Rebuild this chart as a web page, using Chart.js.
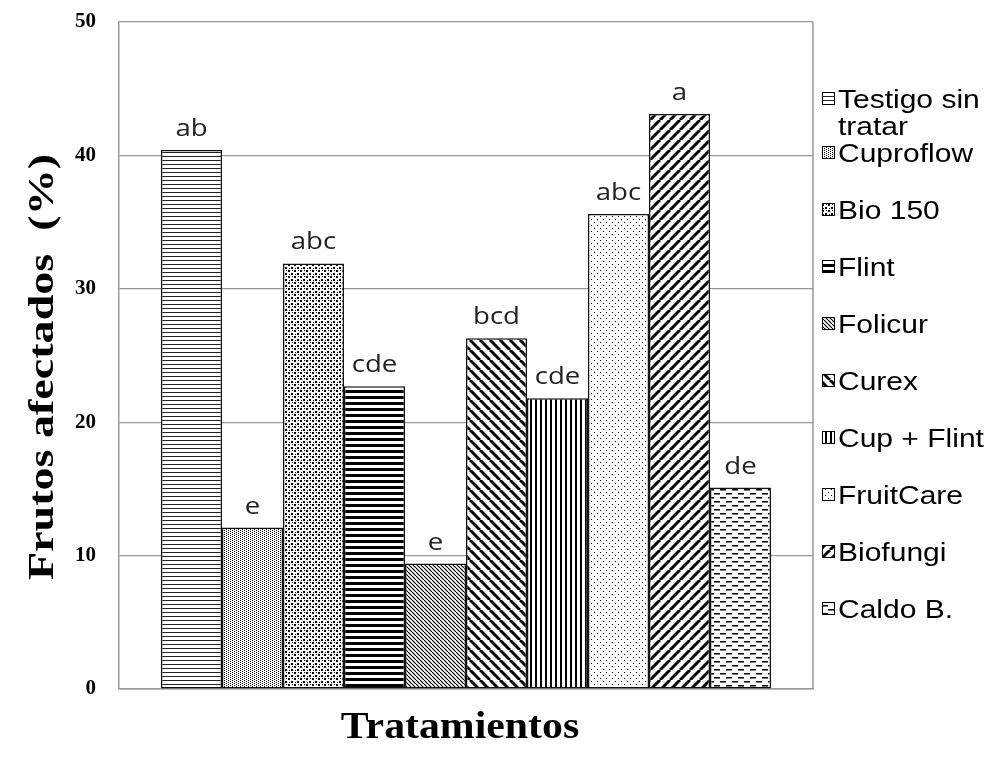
<!DOCTYPE html>
<html>
<head>
<meta charset="utf-8">
<script src="https://cdn.jsdelivr.net/npm/chart.js@4"></script>
<style>
  body { margin: 0; background: #fff; }
  #wrap { width: 1003px; height: 758px; }
</style>
</head>
<body>
<div id="wrap"><canvas id="chart" width="1003" height="758"></canvas></div>
<script>
// datos
var tratamientos = ['Testigo sin tratar', 'Cuproflow', 'Bio 150', 'Flint', 'Folicur', 'Curex', 'Cup + Flint', 'FruitCare', 'Biofungi', 'Caldo B.'];
var frutosAfectados = [40.4, 12.1, 31.9, 22.7, 9.4, 26.3, 21.8, 35.6, 43.1, 15.1];
var letras = ['ab', 'e', 'abc', 'cde', 'e', 'bcd', 'cde', 'abc', 'a', 'de'];
var yTicks = [0, 10, 20, 30, 40, 50];

// tramas en blanco y negro
function trama(w, h, draw) {
  var c = document.createElement('canvas');
  c.width = w; c.height = h;
  var g = c.getContext('2d');
  g.fillStyle = '#fff';
  g.fillRect(0, 0, w, h);
  g.fillStyle = '#000';
  g.strokeStyle = '#000';
  draw(g, w, h);
  return g.createPattern(c, 'repeat');
}
function diagonal(p, lw, dir) {
  return trama(p, p, function(g) {
    g.lineWidth = lw;
    for (var x0 = -p; x0 <= p; x0 += p) {
      g.beginPath();
      if (dir == '/') { g.moveTo(x0, p); g.lineTo(x0 + p, 0); }
      else { g.moveTo(x0, 0); g.lineTo(x0 + p, p); }
      g.stroke();
    }
  });
}
var tramas = [
  trama(4, 4, function(g) { g.fillStyle = '#222'; g.fillRect(0, 0, 4, 1); }),
  trama(4, 4, function(g) { g.fillRect(0, 0, 1, 1); g.fillRect(2, 1, 1, 1); g.fillRect(0, 2, 1, 1); g.fillRect(2, 3, 1, 1); }),
  trama(6, 6, function(g) { g.fillRect(0, 0, 2, 2); g.fillRect(3, 3, 2, 2); g.fillRect(4, 0, 1, 1); g.fillRect(1, 4, 1, 1); }),
  trama(6, 6, function(g) { g.fillRect(0, 0, 6, 3); }),
  diagonal(4, 1.2, '\\'),
  diagonal(10, 3, '\\'),
  trama(5, 5, function(g) { g.fillRect(0, 0, 2, 5); }),
  trama(6, 6, function(g) { g.fillRect(0, 0, 1, 1); g.fillRect(3, 3, 1, 1); }),
  diagonal(10, 3, '/'),
  trama(12, 8, function(g) { g.fillRect(0, 1, 6, 1.5); g.fillRect(6, 5, 6, 1.5); })
];

function textoEstirado(ctx, txt, x, y, sx, align) {
  ctx.save();
  ctx.translate(x, y);
  ctx.scale(sx, 1);
  ctx.textAlign = align || 'left';
  ctx.fillText(txt, 0, 0);
  ctx.restore();
}

var datasets = tratamientos.map(function(t, i) {
  return {
    label: t,
    data: [frutosAfectados[i]],
    backgroundColor: tramas[i],
    borderColor: '#111',
    borderWidth: 1.5,
    borderSkipped: false
  };
});

// marco, letras, titulos y leyenda
var extras = {
  id: 'extras',
  beforeDatasetsDraw: function(chart) {
    var ctx = chart.ctx, a = chart.chartArea;
    ctx.save();
    ctx.strokeStyle = '#999';
    ctx.lineWidth = 1.5;
    ctx.beginPath();
    ctx.moveTo(a.right, a.top);
    ctx.lineTo(a.right, a.bottom);
    ctx.stroke();
    ctx.restore();
  },
  afterDraw: function(chart) {
    var ctx = chart.ctx;
    ctx.save();
    // letras de significancia
    ctx.fillStyle = '#222';
    ctx.font = '24px "Open Sans"';
    chart.data.datasets.forEach(function(ds, i) {
      var bar = chart.getDatasetMeta(i).data[0];
      textoEstirado(ctx, letras[i], bar.x, bar.y - 14, 1.15, 'center');
    });

    // titulos de ejes
    ctx.fillStyle = '#000';
    ctx.font = 'bold 38px "Liberation Serif"';
    textoEstirado(ctx, 'Tratamientos', 460, 738, 1.1, 'center');

    ctx.save();
    ctx.translate(53, 367);
    ctx.rotate(-Math.PI / 2);
    ctx.font = 'bold 36px "Liberation Serif"';
    textoEstirado(ctx, 'Frutos afectados  (%)', 0, 0, 1.28, 'center');
    ctx.restore();

    // leyenda
    ctx.font = '25px "Liberation Sans"';
    var maxW = (1003 - 838) / 1.2;
    chart.data.datasets.forEach(function(ds, i) {
      var words = ds.label.split(' '), lines = [], cur = '';
      words.forEach(function(w) {
        var t = cur ? cur + ' ' + w : w;
        if (cur && ctx.measureText(t).width > maxW) { lines.push(cur); cur = w; }
        else cur = t;
      });
      lines.push(cur);
      var y = 162 + (i - 1) * 57 + 3 * (lines.length - 1);
      ctx.fillStyle = ds.backgroundColor;
      ctx.fillRect(822, y - 16, 12, 12);
      ctx.strokeStyle = '#000';
      ctx.lineWidth = 1;
      ctx.strokeRect(822.5, y - 15.5, 12, 12);
      ctx.fillStyle = '#000';
      lines.forEach(function(l, k) {
        textoEstirado(ctx, l, 838, y + k * 27, 1.2, 'left');
      });
    });
    ctx.restore();
  }
};

var ctx = document.getElementById('chart');
var myChart = new Chart(ctx, {
  type: 'bar',
  data: {
    labels: [''],
    datasets: datasets
  },
  options: {
    responsive: false,
    animation: false,
    layout: { padding: { top: 22, right: 190, bottom: 0, left: 0 } },
    datasets: { bar: { categoryPercentage: 0.879, barPercentage: 1.0 } },
    plugins: {
      legend: { display: false },
      tooltip: { enabled: false }
    },
    scales: {
      x: {
        ticks: { display: false },
        grid: { display: false },
        border: { color: '#999', width: 1.5 },
        afterFit: function(s) { s.height = 69; }
      },
      y: {
        min: 0,
        max: 50,
        afterBuildTicks: function(s) { s.ticks = yTicks.map(function(v) { return { value: v }; }); },
        ticks: {
          padding: 23,
          color: '#000',
          font: { family: '"Liberation Serif"', weight: 'bold', size: 21 }
        },
        grid: { color: '#999', lineWidth: 1.2, drawTicks: false, tickLength: 0 },
        border: { color: '#999', width: 1.5 },
        afterFit: function(s) { s.width = 119; s.paddingTop = 0; s.paddingBottom = 0; }
      }
    }
  },
  plugins: [extras]
});
</script>
</body>
</html>
